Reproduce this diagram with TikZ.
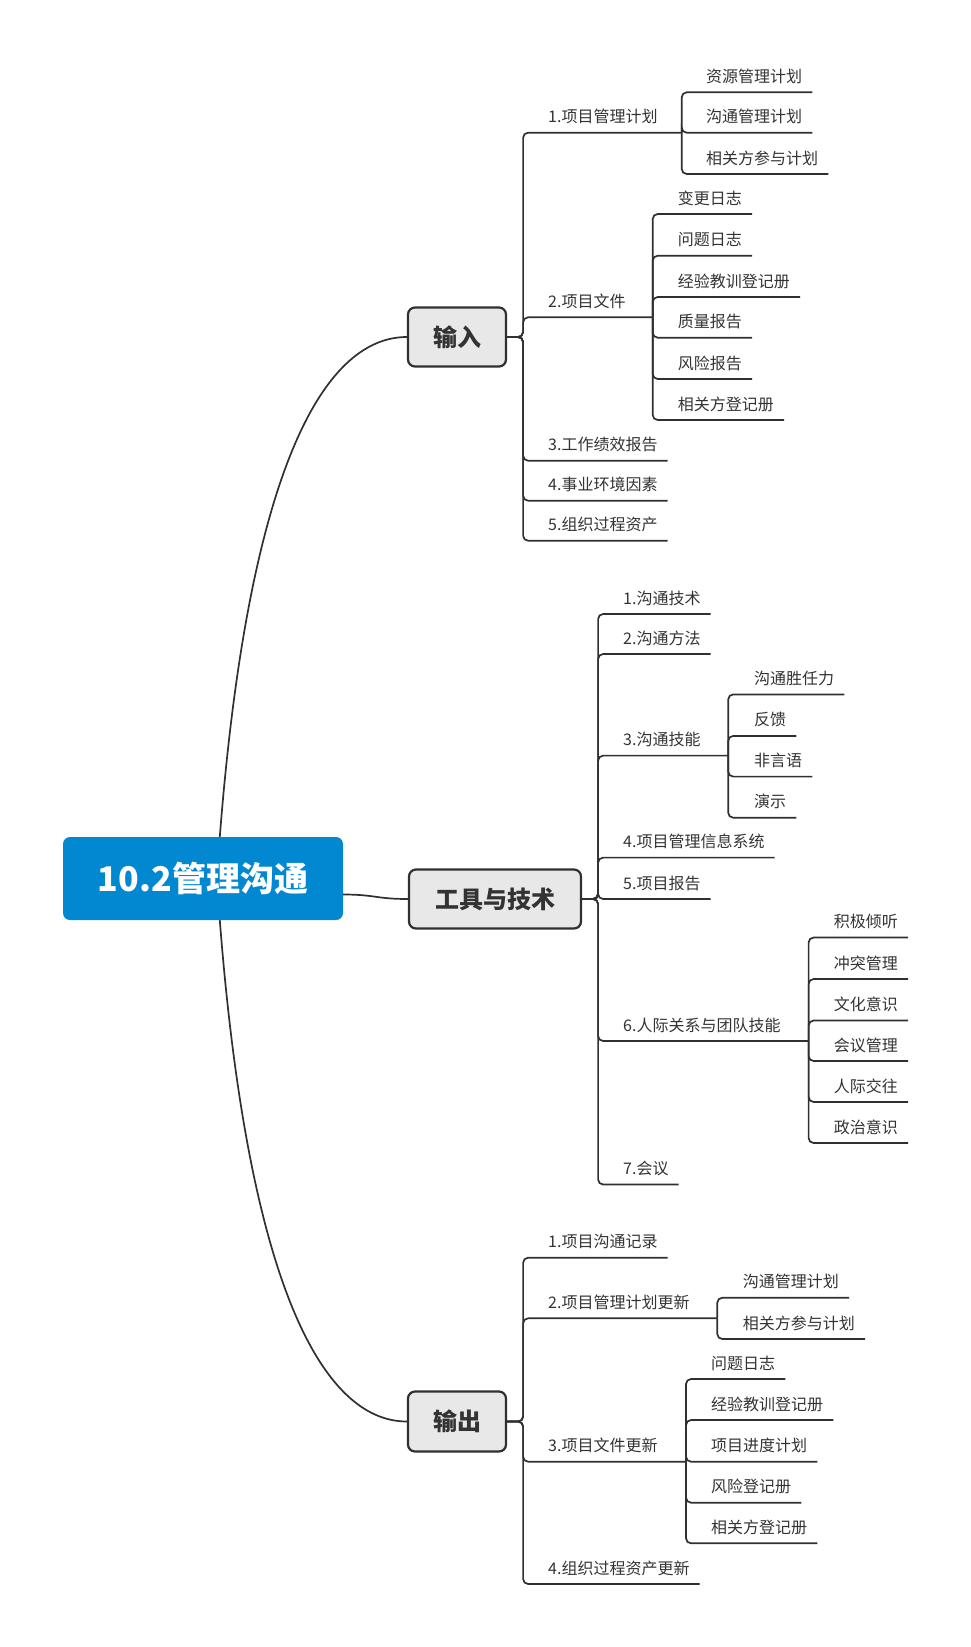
\documentclass[tikz,border=0pt]{standalone}
\usepackage{fontspec}
\setmainfont{Noto Sans CJK SC}
\usetikzlibrary{calc}
\definecolor{ln}{HTML}{303030}
\definecolor{tx}{HTML}{333333}
\definecolor{rootblue}{HTML}{0288D1}
\definecolor{catfill}{HTML}{E8E8E8}
\tikzset{
  conn/.style={draw=ln, line width=1.7pt, rounded corners=5pt},
  leaf/.style={anchor=base west, inner sep=0pt, text=tx, font=\fontsize{16}{16}\selectfont},
  cat/.style={draw=ln, line width=2.2pt, fill=catfill, rounded corners=7pt, text=tx,
    font=\fontsize{24}{24}\selectfont\bfseries, inner sep=0pt},
  rootbox/.style={fill=rootblue, rounded corners=7pt, text=white,
    font=\fontsize{34}{34}\selectfont\bfseries, inner sep=0pt},
}
\begin{document}
\begin{tikzpicture}[x=1pt,y=-1pt]
\useasboundingbox (0,0) rectangle (970,1647);

% root and categories
\node[rootbox, minimum width=280pt, minimum height=83pt] (root) at (203,878.5) {10.2管理沟通};
\node[cat, minimum width=98pt, minimum height=59pt] (in) at (457,337) {输入};
\node[cat, minimum width=172pt, minimum height=59pt] (tt) at (495,899) {工具与技术};
\node[cat, minimum width=98pt, minimum height=60pt] (out) at (457,1421.5) {输出};

\draw[conn] ($(root.north west)+(157,0)$) .. controls +(30,-386) and +(-77,0) .. (in.west);
\draw[conn] ($(root.south west)+(157,0)$) .. controls +(30,386) and +(-77,0) .. (out.west);
\draw[conn] ($(root.east)+(0,16)$) .. controls +(32,0) and +(-32,0) .. (tt.west);

% ---------- 输入 ----------
\node[leaf] (i1) at (548,122.7) {1.项目管理计划};
\coordinate (i1s) at (681.7,132.7);
\draw[conn] (in.east) -- ++(16,0) |- (i1s);
\node[leaf] (i2) at (548,307.3) {2.项目文件};
\coordinate (i2s) at (652.7,317.3);
\draw[conn] (in.east) -- ++(16,0) |- (i2s);
\foreach \n/\y/\t in {i3/460.7/3.工作绩效报告, i4/500.7/4.事业环境因素, i5/540.7/5.组织过程资产}{
  \node[leaf] (\n) at (548,\y-10) {\t};
  \draw[conn] (in.east) -- ++(16,0) |- ($(\n.base east)+(10,10)$);
}
\foreach \n/\y/\t in {i1a/92.3/资源管理计划, i1b/132.7/沟通管理计划, i1c/174/相关方参与计划}{
  \node[leaf] (\n) at (706,\y-10) {\t};
  \draw[conn] (i1s) |- ($(\n.base east)+(10,10)$);
}
\foreach \n/\y/\t in {i2a/214/变更日志, i2b/255.7/问题日志, i2c/297/经验教训登记册, i2d/337.7/质量报告, i2e/379/风险报告, i2f/420/相关方登记册}{
  \node[leaf] (\n) at (677.7,\y-10) {\t};
  \draw[conn] (i2s) |- ($(\n.base east)+(10,10)$);
}

% ---------- 工具与技术 ----------
\node[leaf] (t3) at (623,745.6) {3.沟通技能};
\coordinate (t3s) at (728.2,755.6);
\draw[conn] (tt.east) -- ++(16,0) |- (t3s);
\node[leaf] (t6) at (623,1031) {6.人际关系与团队技能};
\coordinate (t6s) at (808.6,1041);
\draw[conn] (tt.east) -- ++(16,0) |- (t6s);
\foreach \n/\y/\t in {t1/614/1.沟通技术, t2/654/2.沟通方法, t4/857.6/4.项目管理信息系统, t5/899/5.项目报告, t7/1184.5/7.会议}{
  \node[leaf] (\n) at (623,\y-10) {\t};
  \draw[conn] (tt.east) -- ++(16,0) |- ($(\n.base east)+(10,10)$);
}
\foreach \n/\y/\t in {t3a/694.4/沟通胜任力, t3b/735.9/反馈, t3c/776.6/非言语, t3d/817.7/演示}{
  \node[leaf] (\n) at (754,\y-10) {\t};
  \draw[conn] (t3s) |- ($(\n.base east)+(10,10)$);
}
\foreach \n/\y/\t in {t6a/937.5/积极倾听, t6b/979/冲突管理, t6c/1020.5/文化意识, t6d/1061/会议管理, t6e/1102/人际交往, t6f/1143/政治意识}{
  \node[leaf] (\n) at (833.6,\y-10) {\t};
  \draw[conn] (t6s) |- ($(\n.base east)+(10,10)$);
}

% ---------- 输出 ----------
\node[leaf] (o2) at (548,1308.3) {2.项目管理计划更新};
\coordinate (o2s) at (717.3,1318.3);
\draw[conn] (out.east) -- ++(16,0) |- (o2s);
\node[leaf] (o3) at (548,1451.7) {3.项目文件更新};
\coordinate (o3s) at (686,1461.7);
\draw[conn] (out.east) -- ++(16,0) |- (o3s);
\foreach \n/\y/\t in {o1/1257.7/1.项目沟通记录, o4/1584/4.组织过程资产更新}{
  \node[leaf] (\n) at (548,\y-10) {\t};
  \draw[conn] (out.east) -- ++(16,0) |- ($(\n.base east)+(10,10)$);
}
\foreach \n/\y/\t in {o2a/1297.7/沟通管理计划, o2b/1339/相关方参与计划}{
  \node[leaf] (\n) at (742.7,\y-10) {\t};
  \draw[conn] (o2s) |- ($(\n.base east)+(10,10)$);
}
\foreach \n/\y/\t in {o3a/1379/问题日志, o3b/1420/经验教训登记册, o3c/1461.7/项目进度计划, o3d/1502.7/风险登记册, o3e/1543.3/相关方登记册}{
  \node[leaf] (\n) at (711,\y-10) {\t};
  \draw[conn] (o3s) |- ($(\n.base east)+(10,10)$);
}
\end{tikzpicture}
\end{document}
